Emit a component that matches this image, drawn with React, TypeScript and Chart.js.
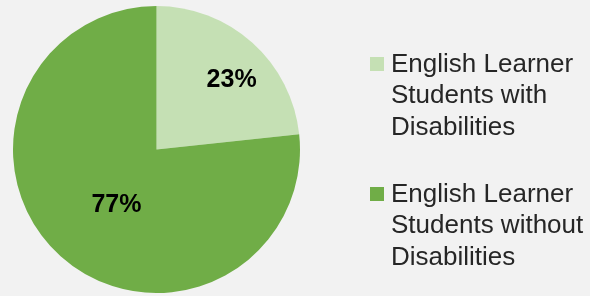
import React, { useEffect, useRef } from "react";
import { Chart, registerables } from "chart.js";

Chart.register(...registerables);

const categories = [
  "English Learner Students with Disabilities",
  "English Learner Students without Disabilities",
];
const legendLines = [
  ["English Learner", "Students with", "Disabilities"],
  ["English Learner", "Students without", "Disabilities"],
];
const shares = [23.3, 76.7];
const sliceColors = ["#c5e0b4", "#70ad47"];

const BG = "#f2f2f2";
const TEXT = "#262626";
const labelRadius = [0.712, 0.48];
const labelAngleShift = [5.4, -6.4];

const labelPlugin = {
  id: "sliceLabels",
  afterDatasetsDraw(chart: any) {
    const ctx = chart.ctx;
    const meta = chart.getDatasetMeta(0);
    const total = shares.reduce((a, b) => a + b, 0);
    ctx.save();
    ctx.font = "bold 25px 'Liberation Sans', Arial, sans-serif";
    ctx.fillStyle = "#000000";
    ctx.textAlign = "center";
    ctx.textBaseline = "middle";
    meta.data.forEach((arc: any, i: number) => {
      const p = arc.getProps(["x", "y", "startAngle", "endAngle", "outerRadius"], true);
      const mid = (p.startAngle + p.endAngle) / 2 + (labelAngleShift[i] * Math.PI) / 180;
      const r = p.outerRadius * labelRadius[i];
      const x = p.x + Math.cos(mid) * r;
      const y = p.y + Math.sin(mid) * r;
      ctx.fillText(Math.round((shares[i] / total) * 100) + "%", x, y);
    });
    ctx.restore();
  },
};

const legendPlugin = {
  id: "sideLegend",
  afterDraw(chart: any) {
    const ctx = chart.ctx;
    const boxX = 370;
    const textX = 391;
    const lineH = 31.3;
    const firstBaseline = [72, 202];
    ctx.save();
    ctx.font = "26px 'Liberation Sans', Arial, sans-serif";
    ctx.textBaseline = "alphabetic";
    ctx.textAlign = "left";
    legendLines.forEach((lines, i) => {
      const base = firstBaseline[i];
      ctx.fillStyle = sliceColors[i];
      ctx.fillRect(boxX, base - 15, 14, 14);
      ctx.fillStyle = TEXT;
      lines.forEach((t, j) => ctx.fillText(t, textX, base + j * lineH));
    });
    ctx.restore();
  },
};

export default function App() {
  const ref = useRef<HTMLCanvasElement>(null);
  useEffect(() => {
    document.body.style.margin = "0";
    document.body.style.background = BG;
    const chart = new Chart(ref.current as HTMLCanvasElement, {
      type: "pie",
      data: {
        labels: categories,
        datasets: [
          {
            data: shares,
            backgroundColor: sliceColors,
            borderWidth: 0,
          },
        ],
      },
      options: {
        animation: false,
        responsive: true,
        maintainAspectRatio: false,
        layout: { padding: { left: 13, top: 6, right: 290, bottom: 3 } },
        plugins: {
          legend: { display: false },
          tooltip: { enabled: false },
        },
      },
      plugins: [labelPlugin, legendPlugin],
    });
    return () => chart.destroy();
  }, []);
  return (
    <div style={{ width: 590, height: 296, background: BG, position: "relative" }}>
      <canvas ref={ref} />
    </div>
  );
}
